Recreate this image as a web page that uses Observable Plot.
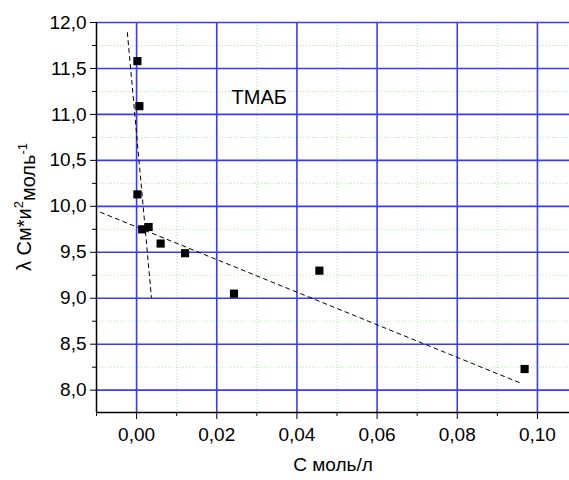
<!DOCTYPE html>
<html><head><meta charset="utf-8">
<script src="https://cdn.jsdelivr.net/npm/d3@7"></script>
<script src="https://cdn.jsdelivr.net/npm/@observablehq/plot@0.6"></script>
<style>body{margin:0;background:#fff;font-family:Arial,"Liberation Sans",sans-serif}</style>
</head><body><div id="chart"></div>
<script>
// data points (concentration, molar conductivity)
const conc   = [0.0002, 0.0007, 0.0002, 0.0014, 0.0030, 0.0060, 0.0121, 0.0243, 0.0456, 0.0968];
const lambda = [11.58, 11.09, 10.13, 9.75, 9.775, 9.595, 9.49, 9.05, 9.30, 8.23];
// dashed fit lines
const fit1X = [-0.0023, 0.0037];
const fit1Y = [11.89, 9.01];
const fit2X = [-0.0090, 0.0956];
const fit2Y = [9.935, 8.08];
// ticks
const xMajor = [0.00, 0.02, 0.04, 0.06, 0.08, 0.10];
const xMinor = [-0.01, 0.01, 0.03, 0.05, 0.07, 0.09];
const yMajor = [8.0, 8.5, 9.0, 9.5, 10.0, 10.5, 11.0, 11.5, 12.0];
const yMinor = [8.25, 8.75, 9.25, 9.75, 10.25, 10.75, 11.25, 11.75];
const xDomain = [-0.01, 0.108];
const yDomain = [7.757, 12.0];
const annot = [{x: 0.0237, y: 11.185, t: "ТМАБ"}];
const xLabel = "С моль/л";

const pts = conc.map((c, i) => ({x: c, y: lambda[i]}));
const f1 = fit1X.map((x, i) => ({x, y: fit1Y[i]}));
const f2 = fit2X.map((x, i) => ({x, y: fit2Y[i]}));
const comma = (f) => (d) => d3.format(f)(d).replace(".", ",");

const chart = Plot.plot({
  width: 569, height: 480,
  marginTop: 22, marginBottom: 68, marginLeft: 96, marginRight: 0,
  style: {fontFamily: "Arial, 'Liberation Sans', sans-serif", fontSize: "19px", background: "#fff", color: "#000", overflow: "visible"},
  x: {domain: xDomain},
  y: {domain: yDomain},
  marks: [
    Plot.ruleX(xMinor.slice(1), {stroke: "#9ef59e", strokeWidth: 1, strokeDasharray: "1,2"}),
    Plot.ruleY(yMinor, {stroke: "#9ef59e", strokeWidth: 1, strokeDasharray: "1,2"}),
    Plot.ruleX(xMajor, {stroke: "#3a3aff", strokeWidth: 1.6}),
    Plot.ruleY(yMajor, {stroke: "#3a3aff", strokeWidth: 1.6}),
    Plot.line(f1, {x: "x", y: "y", stroke: "#000", strokeWidth: 1, strokeDasharray: "4,4"}),
    Plot.line(f2, {x: "x", y: "y", stroke: "#000", strokeWidth: 1, strokeDasharray: "4,4"}),
    Plot.dot(pts, {x: "x", y: "y", symbol: "square", r: 4.6, fill: "#000", stroke: "none"}),
    Plot.text(annot, {x: "x", y: "y", text: "t", textAnchor: "start", fontSize: 20}),
    Plot.ruleX([xDomain[0]], {stroke: "#000", strokeWidth: 1.5}),
    Plot.ruleY([yDomain[0]], {stroke: "#000", strokeWidth: 1.5}),
    Plot.axisX(xMajor, {tickFormat: comma(".2f"), tickSize: 7, tickPadding: 8, label: null, fontSize: 19}),
    Plot.axisX(xMinor, {tickFormat: () => "", tickSize: 4, label: null}),
    Plot.axisY(yMajor, {tickFormat: comma(".1f"), tickSize: 6, tickPadding: 4, label: null, fontSize: 19}),
    Plot.axisY(yMinor, {tickFormat: () => "", tickSize: 4, label: null}),
    Plot.text([xLabel], {frameAnchor: "bottom", dy: 58, fontSize: 19})
  ]
});
document.getElementById("chart").appendChild(chart);

// y-axis title with superscripts
const svg = d3.select(chart);
const yt = svg.append("text")
  .attr("transform", "translate(31,207) rotate(-90)")
  .attr("text-anchor", "middle")
  .attr("font-size", 20)
  .attr("fill", "#000");
yt.append("tspan").text("λ См*и");
yt.append("tspan").attr("font-size", 13).attr("dy", "-0.6em").text("2");
yt.append("tspan").attr("dy", "0.6em").text("моль");
yt.append("tspan").attr("font-size", 13).attr("dy", "-0.6em").text("-1");
</script>
</body></html>
